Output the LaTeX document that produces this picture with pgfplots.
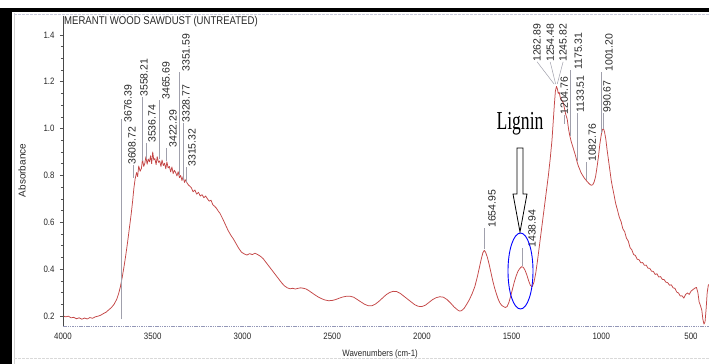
\documentclass[border=0pt]{standalone}
\usepackage{fontspec}
\setmainfont{Liberation Sans}[FakeStretch=0.85]
\newfontfamily\plainsans{Liberation Sans}
\newfontfamily\ligfont{Liberation Serif}[FakeStretch=0.68]
\usepackage{pgfplots}
\pgfplotsset{compat=1.18}
\definecolor{curve}{RGB}{196,70,70}
\definecolor{txt}{RGB}{40,40,40}
\definecolor{pk}{RGB}{160,160,172}
\definecolor{axisblue}{RGB}{120,125,165}

\pgfplotstableread{
wn abs
4000 0.200
3985 0.196
3970 0.199
3955 0.192
3940 0.194
3925 0.188
3910 0.192
3895 0.186
3880 0.191
3865 0.187
3850 0.193
3835 0.190
3820 0.196
3805 0.199
3790 0.203
3775 0.210
3760 0.216
3745 0.226
3730 0.236
3715 0.250
3700 0.272
3690 0.295
3680 0.325
3670 0.365
3660 0.410
3650 0.460
3640 0.515
3630 0.575
3620 0.635
3612 0.690
3605 0.745
3598 0.785
3590 0.812
3584 0.795
3578 0.840
3570 0.818
3563 0.830
3557 0.868
3550 0.838
3544 0.852
3538 0.880
3531 0.848
3525 0.870
3518 0.858
3512 0.884
3506 0.850
3500 0.900
3494 0.866
3488 0.872
3481 0.846
3475 0.880
3468 0.856
3461 0.862
3454 0.838
3448 0.866
3441 0.842
3434 0.852
3427 0.828
3421 0.858
3414 0.832
3407 0.838
3400 0.815
3393 0.836
3386 0.808
3379 0.822
3372 0.812
3365 0.798
3358 0.816
3351 0.790
3344 0.800
3337 0.778
3330 0.796
3323 0.770
3316 0.782
3309 0.768
3302 0.760
3295 0.755
3285 0.748
3275 0.730
3265 0.738
3255 0.720
3245 0.728
3235 0.712
3225 0.718
3215 0.705
3205 0.712
3195 0.700
3185 0.690
3175 0.694
3165 0.675
3155 0.668
3145 0.660
3135 0.648
3125 0.638
3110 0.615
3095 0.590
3080 0.565
3065 0.545
3050 0.528
3035 0.508
3020 0.488
3005 0.472
2990 0.465
2975 0.460
2960 0.466
2945 0.462
2930 0.468
2915 0.462
2900 0.455
2885 0.445
2870 0.430
2855 0.415
2840 0.400
2825 0.385
2810 0.370
2795 0.355
2780 0.340
2765 0.328
2750 0.320
2735 0.316
2720 0.318
2705 0.315
2690 0.318
2675 0.320
2660 0.318
2645 0.315
2630 0.308
2615 0.300
2600 0.292
2580 0.282
2560 0.274
2540 0.268
2520 0.265
2500 0.266
2480 0.270
2460 0.276
2440 0.281
2420 0.284
2400 0.284
2380 0.280
2360 0.270
2340 0.260
2320 0.250
2300 0.244
2280 0.243
2260 0.250
2240 0.262
2220 0.276
2200 0.290
2180 0.300
2160 0.305
2140 0.304
2120 0.296
2100 0.284
2080 0.272
2060 0.260
2040 0.248
2020 0.241
2000 0.240
1980 0.246
1960 0.258
1940 0.270
1920 0.278
1900 0.282
1880 0.280
1860 0.270
1840 0.255
1820 0.238
1800 0.225
1790 0.221
1780 0.222
1765 0.232
1750 0.250
1735 0.270
1720 0.295
1705 0.325
1690 0.370
1680 0.405
1670 0.440
1660 0.470
1652 0.480
1645 0.472
1635 0.450
1625 0.420
1615 0.385
1605 0.350
1595 0.320
1585 0.295
1575 0.272
1565 0.255
1555 0.245
1545 0.240
1535 0.236
1525 0.240
1515 0.258
1505 0.285
1495 0.315
1485 0.345
1475 0.370
1465 0.390
1455 0.402
1445 0.410
1435 0.408
1425 0.395
1415 0.375
1405 0.350
1395 0.330
1385 0.325
1375 0.345
1365 0.385
1355 0.440
1345 0.500
1335 0.560
1325 0.620
1315 0.680
1305 0.740
1295 0.800
1285 0.870
1275 0.950
1268 1.030
1262 1.100
1256 1.160
1250 1.180
1245 1.170
1240 1.150
1235 1.155
1228 1.130
1220 1.120
1212 1.110
1205 1.085
1198 1.060
1190 1.040
1183 1.000
1176 0.970
1168 0.945
1160 0.925
1152 0.905
1144 0.885
1136 0.860
1128 0.840
1120 0.825
1112 0.810
1104 0.800
1096 0.790
1088 0.782
1080 0.775
1072 0.768
1064 0.762
1056 0.758
1048 0.760
1040 0.772
1032 0.795
1024 0.835
1016 0.880
1008 0.935
1000 0.975
994 0.995
988 1.000
982 0.985
975 0.955
968 0.910
960 0.865
952 0.820
945 0.780
938 0.750
930 0.720
920 0.680
910 0.652
900 0.622
890 0.603
880 0.572
870 0.560
860 0.532
850 0.520
840 0.492
830 0.482
820 0.462
810 0.458
800 0.442
790 0.440
780 0.427
770 0.428
760 0.416
750 0.417
740 0.404
730 0.403
720 0.391
710 0.390
700 0.377
690 0.380
680 0.366
670 0.368
660 0.356
650 0.355
640 0.344
630 0.342
620 0.331
610 0.333
600 0.320
590 0.318
580 0.302
570 0.298
560 0.285
550 0.286
540 0.276
530 0.292
520 0.298
510 0.292
500 0.306
490 0.312
480 0.318
470 0.322
462 0.300
455 0.260
448 0.245
440 0.225
434 0.185
428 0.165
422 0.175
416 0.230
410 0.300
404 0.330
400 0.335
}\spectrum

\begin{document}
\begin{tikzpicture}
\path[use as bounding box, fill=white] (0,0) rectangle (709bp,364bp);
\begin{axis}[
  at={(63bp,38bp)}, anchor=south west,
  width=646bp, height=311bp, scale only axis,
  x dir=reverse,
  xmin=400, xmax=4000, ymin=0.157, ymax=1.485,
  axis line style={draw=none},
  xtick={500,1000,...,4000},
  ytick={0.2,0.4,0.6,0.8,1.0,1.2,1.4},
  minor y tick num=3,
  xtick style={draw=none},
  ytick style={draw=txt!80, line width=0.5bp},
  tick align=outside,
  major tick length=3bp, minor tick length=2bp,
  xtick pos=bottom, ytick pos=left,
  /pgf/number format/assume math mode=true,
  /pgf/number format/1000 sep={},
  yticklabel style={/pgf/number format/fixed, /pgf/number format/fixed zerofill, /pgf/number format/precision=1, xshift=-2bp},
  tick label style={font=\fontsize{9.3}{10}\selectfont, text=txt},
  xticklabel style={yshift=-1bp},
  xlabel={Wavenumbers (cm-1)},
  xlabel style={at={(axis description cs:0.491,-0.089)}, anchor=center, font=\fontsize{9.3}{10}\selectfont, text=txt},
  ylabel={Absorbance},
  ylabel style={at={(axis description cs:-0.0635,0.5)}, anchor=center, font=\plainsans\fontsize{10}{11}\selectfont, text=txt},
]
\addplot[curve, line width=0.75bp, line join=round] table[x=wn, y=abs] {\spectrum};

% peak marker lines
\draw[pk, line width=0.5bp] (axis cs:3676.39,0.185) -- (axis cs:3676.39,1.04);
\draw[pk, line width=0.5bp] (axis cs:3608.72,0.79) -- (axis cs:3608.72,0.845);
\draw[pk, line width=0.5bp] (axis cs:3558.21,0.86) -- (axis cs:3558.21,1.136);
\draw[pk, line width=0.5bp] (axis cs:3536.74,0.87) -- (axis cs:3536.74,0.939);
\draw[pk, line width=0.5bp] (axis cs:3465.69,0.87) -- (axis cs:3465.69,1.123);
\draw[pk, line width=0.5bp] (axis cs:3422.29,0.86) -- (axis cs:3422.29,0.918);
\draw[pk, line width=0.5bp] (axis cs:3351.59,0.80) -- (axis cs:3351.59,1.243);
\draw[pk, line width=0.5bp] (axis cs:3328.77,0.78) -- (axis cs:3328.77,1.025);
\draw[pk, line width=0.5bp] (axis cs:3315.32,0.77) -- (axis cs:3315.32,0.837);
\draw[pk, line width=0.5bp] (axis cs:1358,1.285) -- (axis cs:1262.89,1.19);
\draw[pk, line width=0.5bp] (axis cs:1285,1.285) -- (axis cs:1254.48,1.19);
\draw[pk, line width=0.5bp] (axis cs:1213,1.285) -- (axis cs:1245.82,1.19);
\draw[pk, line width=0.5bp] (axis cs:1204.76,1.02) -- (axis cs:1204.76,1.059);
\draw[pk, line width=0.5bp] (axis cs:1175.31,0.97) -- (axis cs:1175.31,1.251);
\draw[pk, line width=0.5bp] (axis cs:1133.51,0.86) -- (axis cs:1133.51,1.068);
\draw[pk, line width=0.5bp] (axis cs:1082.76,0.78) -- (axis cs:1082.76,0.858);
\draw[pk, line width=0.5bp] (axis cs:1001.20,0.98) -- (axis cs:1001.20,1.243);
\draw[pk, line width=0.5bp] (axis cs:990.67,1.0) -- (axis cs:990.67,1.068);
\draw[pk, line width=0.5bp] (axis cs:1654.95,0.485) -- (axis cs:1654.95,0.576);
\draw[pk, line width=0.5bp] (axis cs:1438.94,0.415) -- (axis cs:1438.94,0.491);

% peak labels
\begin{scope}[every node/.style={rotate=90, anchor=west, inner sep=0pt, font=\plainsans\fontsize{10.5}{11}\selectfont, text=txt}]
\node at (axis cs:3638,1.025) {3676.39};
\node at (axis cs:3615,0.845) {3608.72};
\node at (axis cs:3548,1.136) {3558.21};
\node at (axis cs:3504,0.939) {3536.74};
\node at (axis cs:3426,1.123) {3465.69};
\node at (axis cs:3387,0.918) {3422.29};
\node at (axis cs:3314,1.243) {3351.59};
\node at (axis cs:3314,1.025) {3328.77};
\node at (axis cs:3281,0.837) {3315.32};
\node at (axis cs:1358,1.285) {1262.89};
\node at (axis cs:1285,1.285) {1254.48};
\node at (axis cs:1213,1.285) {1245.82};
\node at (axis cs:1207,1.059) {1204.76};
\node at (axis cs:1129,1.251) {1175.31};
\node at (axis cs:1118,1.068) {1133.51};
\node at (axis cs:1051,0.858) {1082.76};
\node at (axis cs:957,1.243) {1001.20};
\node at (axis cs:968,1.068) {990.67};
\node at (axis cs:1609,0.576) {1654.95};
\node at (axis cs:1386,0.491) {1438.94};
\end{scope}
\end{axis}

% decorations in pixel coordinates (origin top-left)
\begin{scope}[x=1bp, y=-1bp, shift={(0bp,364bp)}]
  % scanned page frame
  \fill[black] (0,8) rectangle (12,364);
  \fill[black] (0,8) rectangle (709,12);
  \draw[gray!35, line width=0.6bp] (14,13) -- (14,364);
  \draw[axisblue!40, line width=0.8bp, dash pattern=on 3bp off 1bp] (14,14) -- (709,14);
  \draw[gray!30, line width=0.8bp, dash pattern=on 3bp off 1bp] (14,358) -- (709,358);
  % axis lines
  \draw[txt!85, line width=0.6bp] (63,16) -- (63,326);
  \draw[axisblue!80, line width=0.7bp, dash pattern=on 1.5bp off 0.8bp] (63,326) -- (709,326);
  % title
  \node[anchor=west, inner sep=0pt, text=txt, font=\fontsize{11.3}{12}\selectfont] at (64,22) {MERANTI WOOD SAWDUST (UNTREATED)};
  % Lignin annotation
  \node[inner sep=0pt, font=\ligfont\fontsize{26}{28}\selectfont] at (520,124) {Lignin};
  \draw[black, line width=0.8bp, line join=miter] (517,148) -- (523,148) -- (523,194) -- (527,194) -- (520,232) -- (513,194) -- (517,194) -- cycle;
  \draw[blue, line width=0.9bp] (520.5,271) ellipse [x radius=12.5, y radius=38];
\end{scope}
\end{tikzpicture}
\end{document}
